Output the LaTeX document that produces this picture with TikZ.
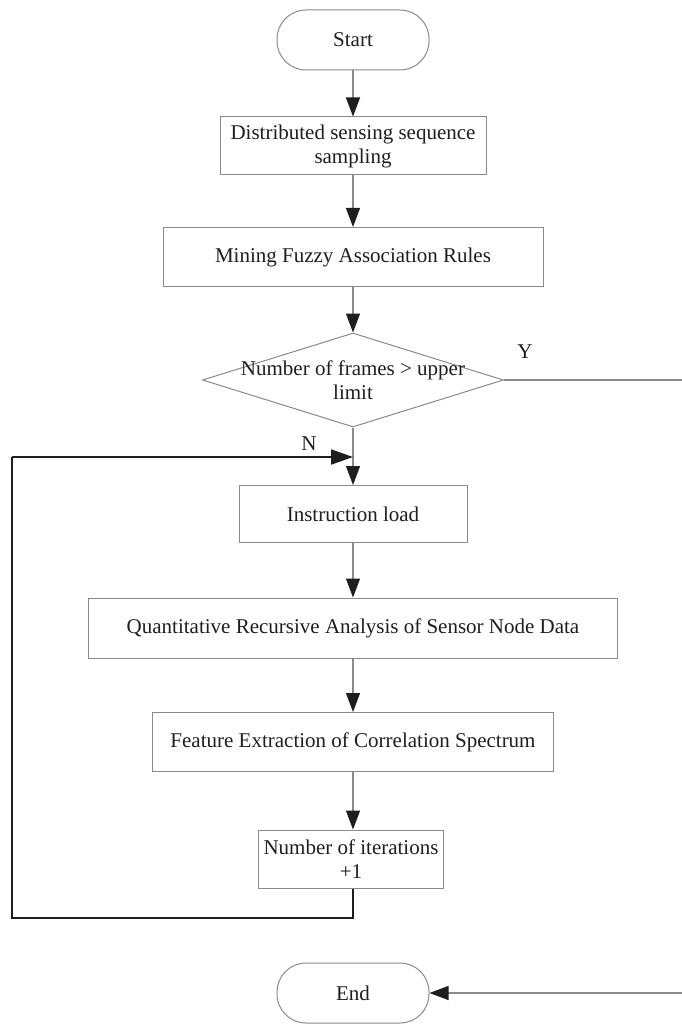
\documentclass[tikz,border=0pt]{standalone}
\usepackage{fontspec}
\setmainfont{Liberation Serif}
\usetikzlibrary{arrows.meta,shapes.geometric}
\definecolor{LineGrey}{HTML}{8A8A8A}
\definecolor{Ink}{HTML}{1E1E1E}
\tikzset{
  procbox/.style={draw=LineGrey,line width=1pt,text=Ink,align=center,minimum height=58pt,inner sep=1pt},
  termbox/.style={procbox,rounded corners=29pt,minimum width=152pt,minimum height=60pt},
  flow/.style={draw=LineGrey,line width=1.1pt,-{Triangle[length=19pt,width=14pt,color=Ink]}},
  loopline/.style={draw=Ink,line width=1.9pt},
}

\begin{document}
\begin{tikzpicture}[x=1pt,y=-1pt,font=\fontsize{21}{24}\selectfont]
        \useasboundingbox (0,0) rectangle (681,1024);
        % main column
        \node[termbox] (start) at (353,40) {Start};
        \node[procbox,minimum width=266pt] (sampling) at (353,146) {Distributed sensing sequence\\sampling};
        \node[procbox,minimum width=380pt,minimum height=59pt] (mining) at (353,257) {Mining Fuzzy Association Rules};
        \node[diamond,draw=LineGrey,line width=1pt,minimum width=301pt,minimum height=94pt,inner sep=0pt] (frames) at (353,380) {};
        \node[text=Ink,align=center] (framestext) at (353,380) {Number of frames > upper\\limit};
        \node[procbox,minimum width=228pt,minimum height=57pt] (load) at (353,514) {Instruction load};
        \node[procbox,minimum width=529pt,minimum height=60pt] (analysis) at (353,628) {Quantitative Recursive Analysis of Sensor Node Data};
        \node[procbox,minimum width=401pt,minimum height=59pt] (spectrum) at (353,742) {Feature Extraction of Correlation Spectrum};
        \node[procbox,minimum width=185pt,minimum height=58pt] (iter) at (351,859) {Number of iterations\\+1};
        \node[termbox] (end) at (353,993) {End};
        \draw[flow] (start) -- (sampling);
        \draw[flow] (sampling) -- (mining);
        \draw[flow] (mining) -- (frames);
        \draw[flow] (frames) -- (load);
        \draw[flow] (load) -- (analysis);
        \draw[flow] (analysis) -- (spectrum);
        \draw[flow] (spectrum.south) -- (iter.north-|spectrum.south);
        % loop back (N)
        \coordinate (join) at (353,457);
        \draw[loopline] (iter.south-|join) -- (353,918) -- (12,918) -- (12,457);
        \draw[loopline,-{Triangle[length=22pt,width=15pt]}] (12,457) -- (join);
        \node[text=Ink] (nlabel) at (309,444) {N};
        % exit (Y)
        \draw[flow] (frames.east) -- (683,380) -- (683,993) -- (end.east);
        \node[text=Ink] (ylabel) at (525,352) {Y};
      \end{tikzpicture}
\end{document}
